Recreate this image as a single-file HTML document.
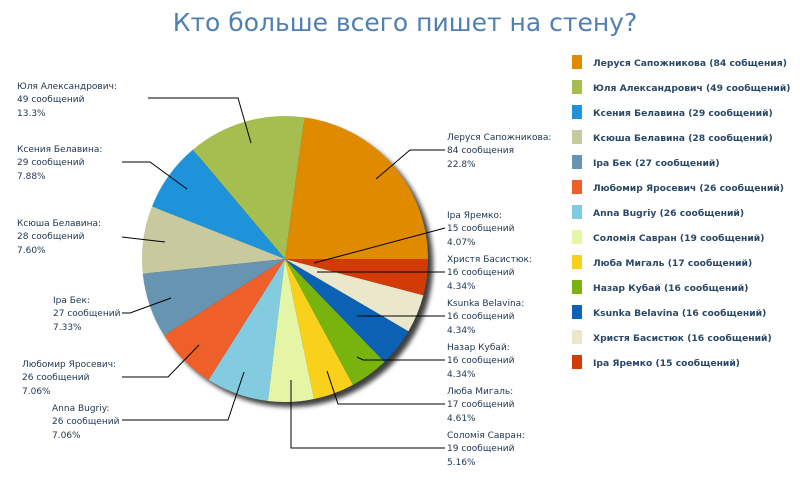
<!DOCTYPE html>
<html><head><meta charset="utf-8"><style>
body{margin:0;background:#fff;width:800px;height:500px;overflow:hidden}
svg{display:block}
.l{font-family:"DejaVu Sans","Liberation Sans",sans-serif;font-size:9px;fill:#1c3550}
.g{font-family:"DejaVu Sans","Liberation Sans",sans-serif;font-size:9.2px;font-weight:bold;fill:#2a4868}
</style></head><body>
<svg id="s" width="800" height="500" viewBox="0 0 800 500" xmlns="http://www.w3.org/2000/svg">
<defs><filter id="b" x="-20%" y="-20%" width="140%" height="140%"><feGaussianBlur stdDeviation="2.5"/></filter></defs>
<text x="405" y="31" text-anchor="middle" font-family="DejaVu Sans,Liberation Sans,sans-serif" font-size="25" fill="#4f7fb3">Кто больше всего пишет на стену?</text>
<circle cx="290" cy="264" r="143" fill="#000" opacity="0.75" filter="url(#b)"/>
<g id="pie"></g>
<g stroke="#000" stroke-width="1" fill="none">
<polyline points="148,98 238,98 251,143"/>
<polyline points="122,162 150,162 187,189"/>
<polyline points="122,237 165,242"/>
<polyline points="122,313 130,313 171,298"/>
<polyline points="122,377 168,377 199,345"/>
<polyline points="122,420 228,420 244,372"/>
<polyline points="291,380 291,448 445,448"/>
<polyline points="327,371 338,404 445,404"/>
<polyline points="357,357 363,360 445,360"/>
<polyline points="357,316 445,316"/>
<polyline points="317,272 445,272"/>
<polyline points="314,263 445,228"/>
<polyline points="376,179 410,150 445,150"/>
</g>
<g class="l">
<text x="17" y="89">Юля Александрович:</text><text x="17" y="102">49 сообщений</text><text x="17" y="116">13.3%</text>
<text x="17" y="152">Ксения Белавина:</text><text x="17" y="165">29 сообщений</text><text x="17" y="179">7.88%</text>
<text x="17" y="226">Ксюша Белавина:</text><text x="17" y="239">28 сообщений</text><text x="17" y="253">7.60%</text>
<text x="53" y="303">Іра Бек:</text><text x="53" y="316">27 сообщений</text><text x="53" y="330">7.33%</text>
<text x="22" y="367">Любомир Яросевич:</text><text x="22" y="380">26 сообщений</text><text x="22" y="394">7.06%</text>
<text x="52" y="411">Anna Bugriy:</text><text x="52" y="424">26 сообщений</text><text x="52" y="438">7.06%</text>
<text x="447" y="140">Леруся Сапожникова:</text><text x="447" y="153">84 сообщения</text><text x="447" y="167">22.8%</text>
<text x="447" y="218">Іра Яремко:</text><text x="447" y="231">15 сообщений</text><text x="447" y="245">4.07%</text>
<text x="447" y="262">Христя Басистюк:</text><text x="447" y="275">16 сообщений</text><text x="447" y="289">4.34%</text>
<text x="447" y="306">Ksunka Belavina:</text><text x="447" y="319">16 сообщений</text><text x="447" y="333">4.34%</text>
<text x="447" y="350">Назар Кубай:</text><text x="447" y="363">16 сообщений</text><text x="447" y="377">4.34%</text>
<text x="447" y="394">Люба Мигаль:</text><text x="447" y="407">17 сообщений</text><text x="447" y="421">4.61%</text>
<text x="447" y="438">Соломія Савран:</text><text x="447" y="451">19 сообщений</text><text x="447" y="465">5.16%</text>
</g>
<g id="leg" class="g"></g>
</svg>
<script>
var d=[[84,"#e08a00","Леруся Сапожникова (84 собщения)"],[49,"#a6bd4f","Юля Александрович (49 сообщений)"],[29,"#1f93d9","Ксения Белавина (29 сообщений)"],[28,"#c9c9a0","Ксюша Белавина (28 сообщений)"],[27,"#6794b0","Іра Бек (27 сообщений)"],[26,"#ef5f2a","Любомир Яросевич (26 сообщений)"],[26,"#83cce0","Anna Bugriy (26 сообщений)"],[19,"#e4f6a6","Соломія Савран (19 сообщений)"],[17,"#f9d11a","Люба Мигаль (17 сообщений)"],[16,"#78b30e","Назар Кубай (16 сообщений)"],[16,"#0b62b5","Ksunka Belavina (16 сообщений)"],[16,"#ebe7cb","Христя Басистюк (16 сообщений)"],[15,"#d23a06","Іра Яремко (15 сообщений)"]];
var ns="http://www.w3.org/2000/svg",cx=285,cy=259,r=143,a=0,T=368,pie=document.getElementById("pie"),leg=document.getElementById("leg");
d.forEach(function(s,i){var b=a+s[0]/T*2*Math.PI;
var x1=cx+r*Math.cos(a),y1=cy-r*Math.sin(a),x2=cx+r*Math.cos(b),y2=cy-r*Math.sin(b);
var p=document.createElementNS(ns,"path");p.setAttribute("d","M"+cx+","+cy+"L"+x1+","+y1+"A"+r+","+r+" 0 "+((b-a)>Math.PI?1:0)+" 0 "+x2+","+y2+"Z");p.setAttribute("fill",s[1]);pie.appendChild(p);a=b;
var y=55+i*25;var rc=document.createElementNS(ns,"rect");rc.setAttribute("x",572);rc.setAttribute("y",y);rc.setAttribute("width",10);rc.setAttribute("height",14);rc.setAttribute("fill",s[1]);leg.appendChild(rc);
var t=document.createElementNS(ns,"text");t.setAttribute("x",593);t.setAttribute("y",y+11);t.textContent=s[2];leg.appendChild(t);});
</script>
</body></html>
